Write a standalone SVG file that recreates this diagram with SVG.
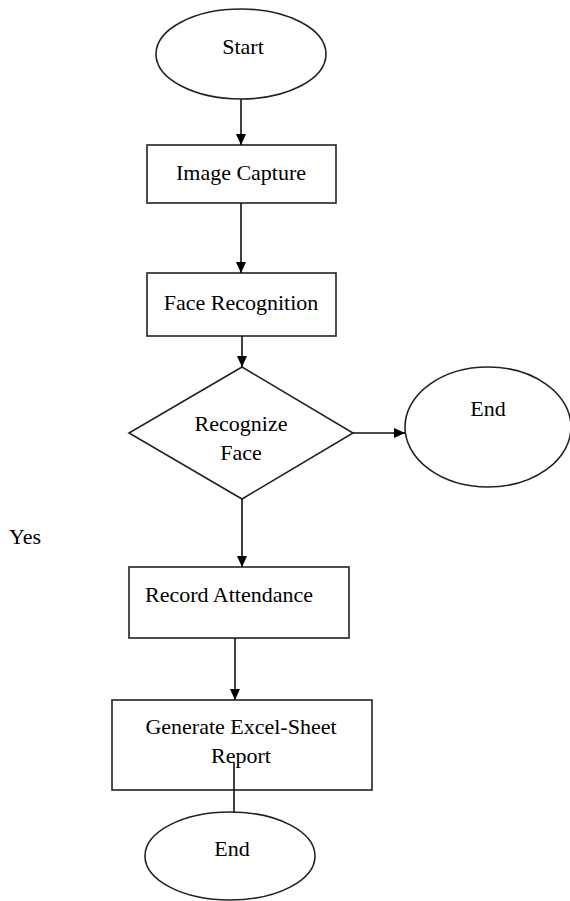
<svg xmlns="http://www.w3.org/2000/svg" width="570" height="901" viewBox="0 0 570 901">
<style>
.s{fill:#fff;stroke:#222;stroke-width:1.6}
.t{font-family:"Liberation Serif","Times New Roman",serif;font-size:22px;fill:#000}
.c{text-anchor:middle}
.l{stroke:#111;stroke-width:1.6;fill:none}
</style>
<defs>
<marker id="a" markerWidth="11" markerHeight="12" refX="12" refY="5.5" orient="auto" markerUnits="userSpaceOnUse" viewBox="0 0 12 11">
<path d="M0,0 L12,5.5 L0,11 Z" fill="#000"/>
</marker>
</defs>
<rect width="570" height="901" fill="#fff"/>
<g id="start">
<ellipse class="s" cx="241" cy="54" rx="85" ry="45"/>
<text class="t c" x="243" y="54">Start</text>
</g>
<g id="image-capture">
<rect class="s" x="147" y="145" width="189" height="58"/>
<text class="t c" x="241" y="180">Image Capture</text>
</g>
<g id="face-recognition">
<rect class="s" x="147" y="273" width="189" height="63"/>
<text class="t c" x="241" y="310">Face Recognition</text>
</g>
<g id="recognize-face">
<polygon class="s" points="242,367 353,433 242,499 129,433"/>
<text class="t c" x="241" y="431">Recognize</text>
<text class="t c" x="241" y="460">Face</text>
</g>
<g id="end-right">
<ellipse class="s" cx="488" cy="427" rx="83" ry="60"/>
<text class="t c" x="488" y="416">End</text>
</g>
<g id="yes-label">
<text class="t" x="9" y="544">Yes</text>
</g>
<g id="record-attendance">
<rect class="s" x="129" y="567" width="220" height="71"/>
<text class="t" x="145" y="602">Record Attendance</text>
</g>
<g id="generate-report">
<rect class="s" x="112" y="700" width="260" height="90"/>
<text class="t c" x="241" y="734">Generate Excel-Sheet</text>
<text class="t c" x="241" y="763">Report</text>
</g>
<g id="end-bottom">
<ellipse class="s" cx="230" cy="856" rx="85" ry="44"/>
<text class="t c" x="232" y="856">End</text>
</g>
<g id="connectors">
<line class="l" x1="241" y1="99" x2="241" y2="145" marker-end="url(#a)"/>
<line class="l" x1="241" y1="203" x2="241" y2="273" marker-end="url(#a)"/>
<line class="l" x1="242" y1="336" x2="242" y2="367" marker-end="url(#a)"/>
<line class="l" x1="353" y1="433" x2="405" y2="433" marker-end="url(#a)"/>
<line class="l" x1="242" y1="499" x2="242" y2="567" marker-end="url(#a)"/>
<line class="l" x1="235" y1="638" x2="235" y2="700" marker-end="url(#a)"/>
<line class="l" x1="234" y1="762" x2="234" y2="812"/>
</g>
</svg>
